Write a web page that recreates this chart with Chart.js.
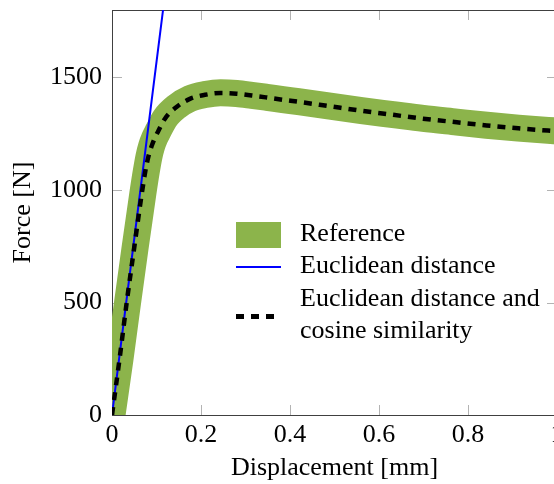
<!DOCTYPE html>
<html><head><meta charset="utf-8">
<script src="https://cdn.jsdelivr.net/npm/chart.js@4"></script>
<style>
html,body{margin:0;padding:0;overflow:hidden;background:#fff;width:554px;height:484px;}
#wrap{position:absolute;left:0;top:0;width:580px;height:484px;}
.lg{position:absolute;font-family:'Liberation Serif';font-size:26px;line-height:30px;color:#000;white-space:nowrap;}
.sw{position:absolute;}
</style></head><body>
<div id="wrap"><canvas id="c" width="580" height="484"></canvas></div>
<div class="sw" style="left:236px;top:222px;width:45px;height:26px;background:rgb(140,180,75);"></div>
<div class="sw" style="left:236px;top:266px;width:45px;height:2px;background:#0000ff;"></div>
<div class="sw" style="left:236px;top:314px;width:8px;height:5px;background:#000;"></div>
<div class="sw" style="left:251px;top:314px;width:8px;height:5px;background:#000;"></div>
<div class="sw" style="left:266px;top:314px;width:8px;height:5px;background:#000;"></div>
<div class="lg" style="left:300px;top:218px;">Reference</div>
<div class="lg" style="left:300px;top:250px;">Euclidean distance</div>
<div class="lg" style="left:300px;top:283px;">Euclidean distance and</div>
<div class="lg" style="left:300px;top:315px;">cosine similarity</div>
<script>
const xTicks = [0, 0.2, 0.4, 0.6, 0.8, 1];
const xTickLabels = ['0', '0.2', '0.4', '0.6', '0.8', '1'];
const yTicks = [0, 500, 1000, 1500];
const yTickLabels = ['0', '500', '1000', '1500'];

const dispRef  = [0, 0.018, 0.035, 0.052, 0.069, 0.077, 0.083, 0.089, 0.096, 0.103, 0.119, 0.145, 0.175, 0.209, 0.244, 0.280, 0.314, 0.348, 0.384, 0.419, 0.490, 0.561, 0.632, 0.699, 0.775, 0.842, 0.913, 0.980, 1.0];
const forceRef = [0, 250, 500, 745, 980, 1082, 1148, 1195, 1232, 1260, 1318, 1370, 1406, 1424, 1432, 1429, 1421, 1412, 1402, 1393, 1373, 1353, 1335, 1318, 1302, 1288, 1275, 1265, 1262];

const dispEuc  = [0, 0.06, 0.115, 0.13];
const forceEuc = [0, 940, 1805, 2040];

const dispCos  = [0, 0.017, 0.033, 0.050, 0.067, 0.075, 0.082, 0.089, 0.096, 0.103, 0.119, 0.145, 0.175, 0.209, 0.244, 0.280, 0.314, 0.348, 0.384, 0.419, 0.490, 0.561, 0.632, 0.699, 0.775, 0.842, 0.913, 0.980, 1.0];
const forceCos = [0, 250, 500, 745, 985, 1085, 1150, 1195, 1230, 1258, 1317, 1369, 1405, 1423, 1431, 1428, 1420, 1411, 1401, 1392, 1372, 1352, 1334, 1317, 1301, 1287, 1274, 1264, 1261];

const pts = (xs, ys) => xs.map((x, i) => ({x, y: ys[i]}));
const font = {family: 'Liberation Serif', size: 26};

const framePlugin = {
  id: 'frame',
  beforeDatasetsDraw(chart) {
    const {ctx, chartArea: a, scales: {x, y}} = chart;
    ctx.save();
    ctx.lineWidth = 1;
    ctx.strokeStyle = '#b3b3b3';
    const ln = (x1, y1, x2, y2) => { ctx.beginPath(); ctx.moveTo(x1, y1); ctx.lineTo(x2, y2); ctx.stroke(); };
    xTicks.forEach(v => { const p = Math.round(x.getPixelForValue(v)) + 0.5; ln(p, a.bottom, p, a.bottom - 10); ln(p, a.top, p, a.top + 10); });
    yTicks.forEach(v => { const p = Math.round(y.getPixelForValue(v)) + 0.5; ln(a.left, p, a.left + 10, p); ln(a.right, p, a.right - 10, p); });
    ctx.strokeStyle = '#404040';
    ctx.strokeRect(a.left + 0.5, a.top + 0.5, a.right - a.left, a.bottom - a.top);
    ctx.restore();
  }
};

new Chart(document.getElementById('c'), {
  type: 'line',
  data: {
    datasets: [
      {label: 'Euclidean distance and cosine similarity', data: pts(dispCos, forceCos), borderColor: '#000', borderWidth: 4.5, borderDash: [8, 7], borderCapStyle: 'butt', pointRadius: 0, cubicInterpolationMode: 'monotone', clip: 0, fill: false},
      {label: 'Euclidean distance', data: pts(dispEuc, forceEuc), borderColor: '#0000ff', borderWidth: 2, pointRadius: 0, tension: 0, clip: 0, fill: false},
      {label: 'Reference', data: pts(dispRef, forceRef), borderColor: 'rgb(140,180,75)', borderWidth: 27, borderJoinStyle: 'round', pointRadius: 0, cubicInterpolationMode: 'monotone', clip: 0, fill: false}
    ]
  },
  options: {
    responsive: false,
    animation: false,
    devicePixelRatio: 1,
    layout: {padding: {top: 10, left: 0, right: 23, bottom: 0}},
    plugins: {legend: {display: false}, tooltip: {enabled: false}},
    scales: {
      x: {
        type: 'linear', min: 0, max: 1,
        afterBuildTicks: s => { s.ticks = xTicks.map(v => ({value: v})); },
        afterFit: s => { s.height = 69; s.paddingLeft = 0; s.paddingRight = 0; },
        ticks: {font, color: '#000', padding: 5, maxRotation: 0, autoSkip: false,
          callback: v => { const i = xTicks.findIndex(t => Math.abs(t - v) < 1e-9); return i >= 0 ? xTickLabels[i] : ''; }},
        grid: {display: false, drawTicks: false},
        border: {display: false},
        title: {display: true, text: 'Displacement [mm]', font, color: '#000', padding: {top: 0, bottom: 0}}
      },
      y: {
        type: 'linear', min: 0, max: 1800,
        afterBuildTicks: s => { s.ticks = yTicks.map(v => ({value: v})); },
        afterFit: s => { s.width = 112; s.paddingTop = 0; s.paddingBottom = 0; },
        ticks: {font, color: '#000', padding: 10, autoSkip: false,
          callback: v => { const i = yTicks.indexOf(v); return i >= 0 ? yTickLabels[i] : ''; }},
        grid: {display: false, drawTicks: false},
        border: {display: false},
        title: {display: true, text: 'Force [N]', font, color: '#000', padding: {top: 8, bottom: 0}}
      }
    }
  },
  plugins: [framePlugin]
});
</script>
</body></html>
